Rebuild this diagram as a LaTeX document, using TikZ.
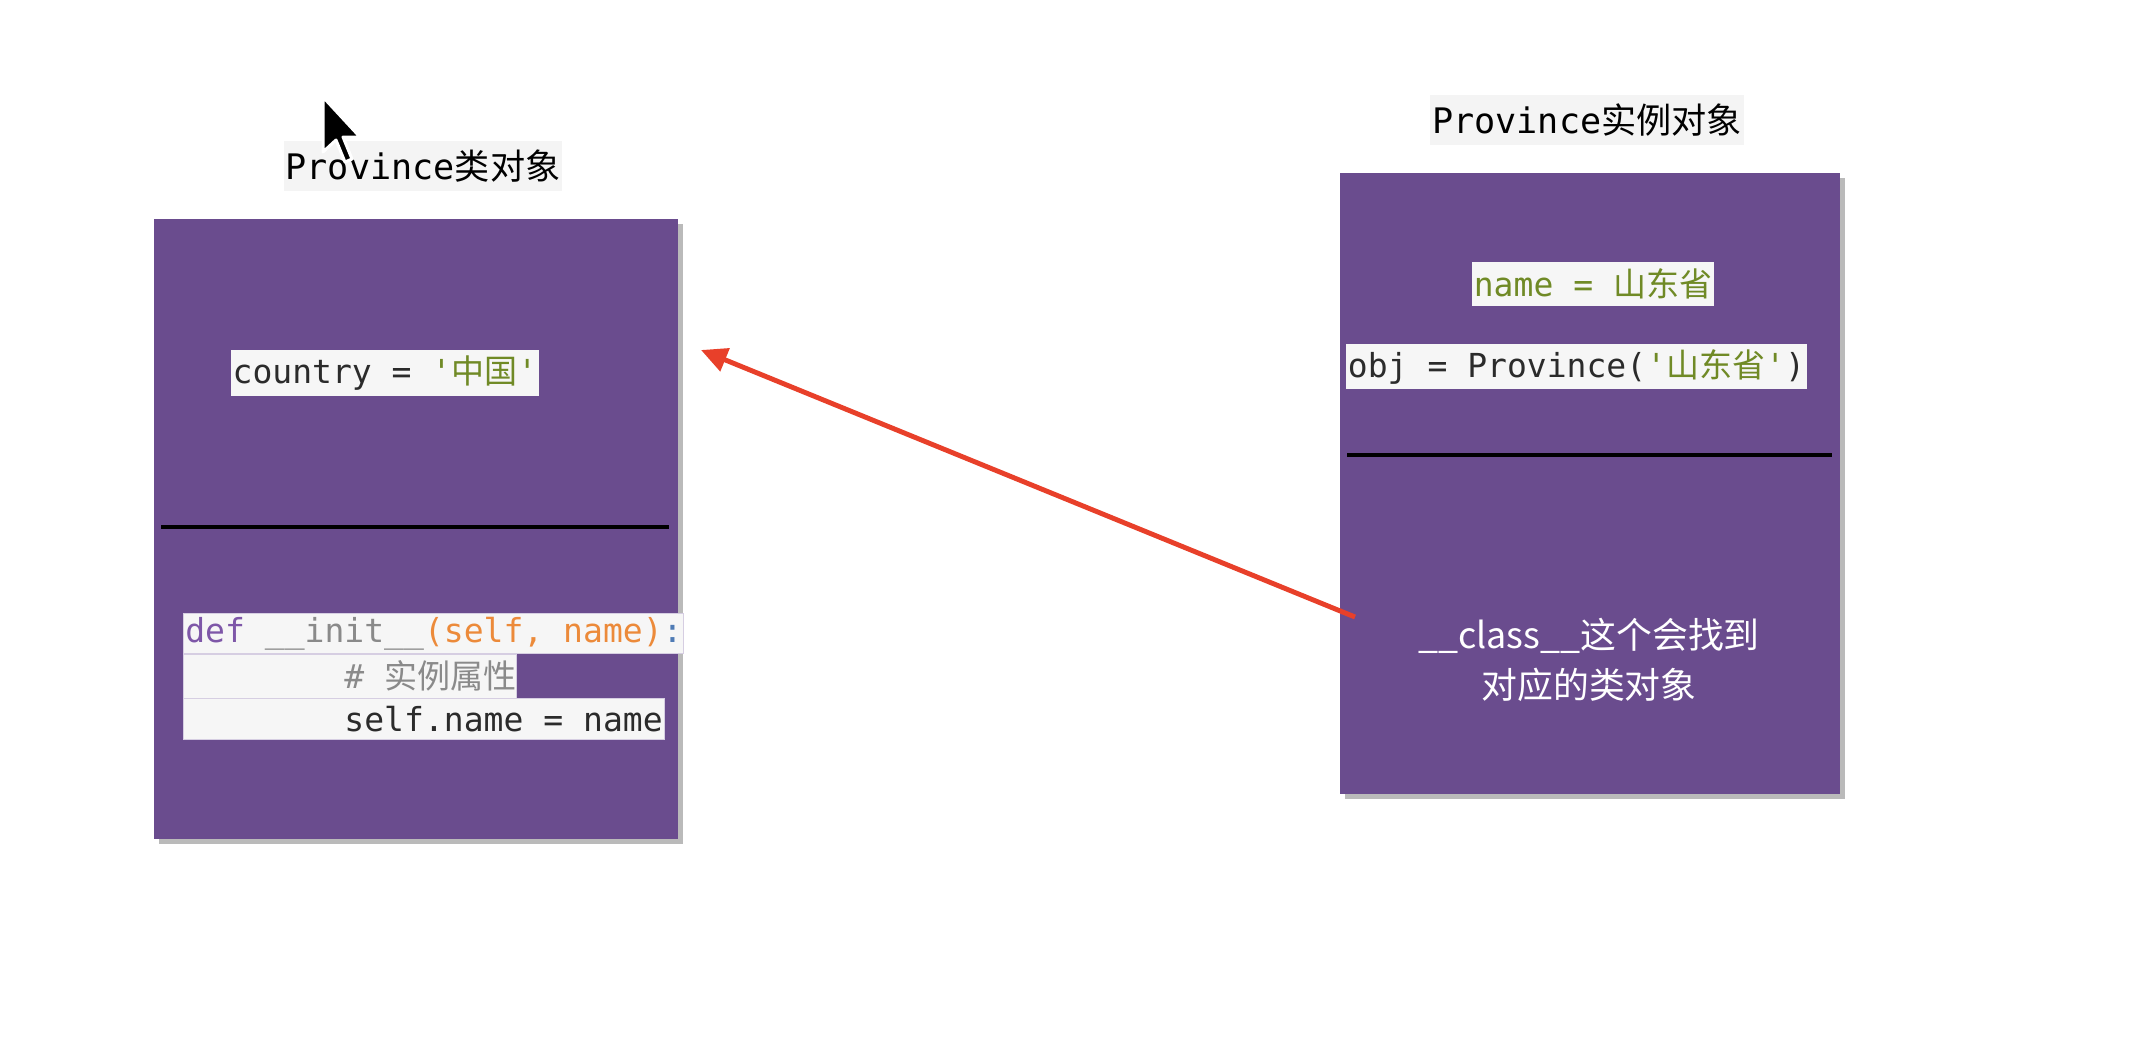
\documentclass[tikz,border=0pt]{standalone}
\usepackage{fontspec}
\setmonofont{DejaVu Sans Mono}
\newfontfamily\cjk{Noto Sans CJK SC}
\usepackage{xcolor}
\usepackage{tikz}
\usetikzlibrary{arrows.meta, shadows, positioning}

\definecolor{paper}{RGB}{106,76,142}
\definecolor{codebg}{RGB}{246,246,246}
\definecolor{titlebg}{RGB}{244,244,244}
\definecolor{rowedge}{RGB}{214,206,226}
\definecolor{codetext}{RGB}{43,43,43}
\definecolor{strgreen}{RGB}{112,138,38}
\definecolor{kwpurple}{RGB}{126,87,168}
\definecolor{initgray}{RGB}{138,138,138}
\definecolor{argorange}{RGB}{236,138,58}
\definecolor{colonblue}{RGB}{79,123,181}
\definecolor{arrowred}{RGB}{232,64,42}

\newcommand{\codefont}{\fontsize{9.4}{11}\ttfamily}
\newcommand{\ind}{\hphantom{00000000}}
\newcommand{\codeln}[1]{\spaceskip=0pt \xspaceskip=0pt \mbox{#1}}

\tikzset{
  objbox/.style={fill=paper, inner sep=0pt,
    drop shadow={shadow xshift=0.5mm, shadow yshift=-0.5mm, opacity=0.45, fill=black!60}},
  titlebox/.style={fill=titlebg, inner xsep=0.2mm, inner ysep=0pt, minimum height=5mm,
    font=\fontsize{10}{12}\ttfamily},
  codebox/.style={fill=codebg, inner xsep=0.2mm, inner ysep=0pt, minimum height=4.6mm,
    font=\codefont, text=codetext},
  coderow/.style={codebox, anchor=north west, align=left, draw=rowedge, line width=0.2pt},
  divider/.style={line width=1.2pt, black},
  refarrow/.style={-{Triangle[length=2.6mm, width=2.4mm]}, line width=1.4pt, arrowred},
}

\begin{document}
\begin{tikzpicture}[x=0.1mm, y=-0.1mm]
        \useasboundingbox (0,0) rectangle (2142,1046);
%	class object
        \node[objbox, minimum width=52.4mm, minimum height=62mm] (clsobj) at (416,529) {};
        \node[titlebox, above=2.7mm of clsobj, xshift=0.7mm] (clstitle) {Province{\cjk 类对象}};
        \node[codebox, minimum height=4.6mm] (country) at (385,373)
            {country = {\color{strgreen}'{\cjk 中国}'}};
        \draw[divider] (161,527) -- (669,527);
        \node[coderow, text width=49.6mm, minimum height=4mm] (init) at (183,613)
            {\codeln{{\color{kwpurple}def} {\color{initgray}\_\_init\_\_}{\color{argorange}(self, name)}{\color{colonblue}:}}};
        \node[coderow, text width=32.9mm, minimum height=4.4mm, text=initgray] (cmt) at (init.south west)
            {\codeln{\ind\# {\cjk 实例属性}}};
        \node[coderow, text width=47.7mm, minimum height=4.1mm] (assign) at (cmt.south west)
            {\codeln{\ind self.name = name}};
%	instance object
        \node[objbox, minimum width=50mm, minimum height=62.1mm] (insobj) at (1590,483.5) {};
        \node[titlebox, above=2.7mm of insobj, xshift=-0.3mm] (institle) {Province{\cjk 实例对象}};
        \node[codebox, minimum height=4.4mm, text=strgreen] (namev) at (1593,284)
            {name = {\cjk 山东省}};
        \node[codebox, minimum height=4.5mm] (objv) at (1576.5,366.5)
            {obj = Province({\color{strgreen}'{\cjk 山东省}'})};
        \draw[divider] (1347,455) -- (1832,455);
        \node[align=center, text=white, font=\fontsize{10.2}{14.2}\cjk] (clsnote) at (1589,660)
            {\_\_class\_\_这个会找到\\对应的类对象};
%	pointer
        \filldraw[fill=black, draw=white, line width=0.3mm, line join=round]
            (323,97) -- (323,152) -- (336,140) -- (345,162) -- (352,159) -- (343,137) -- (360,137) -- cycle;
%	
        \coordinate (ref) at (1355,617);
        \coordinate (tgt) at (701,350);
        \draw[refarrow] (ref) -- (tgt);
\end{tikzpicture}
\end{document}
